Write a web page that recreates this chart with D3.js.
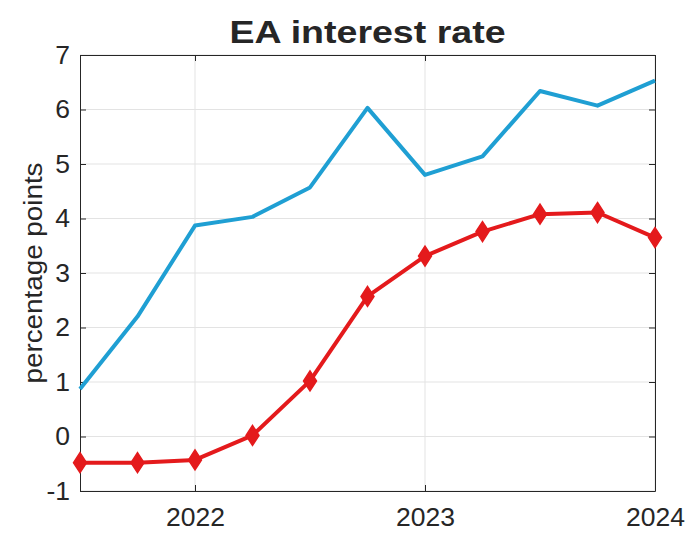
<!DOCTYPE html>
<html>
<head>
<meta charset="utf-8">
<script src="https://cdn.jsdelivr.net/npm/d3@7"></script>
<style>
  body { margin: 0; background: #fff; }
  text { font-family: "Liberation Sans", Arial, sans-serif; fill: #262626; }
</style>
</head>
<body>
<script>
// quarterly dates (as fractional years)
let dates = [2021.5, 2021.75, 2022, 2022.25, 2022.5, 2022.75, 2023, 2023.25, 2023.5, 2023.75, 2024];
let blueSeries = [0.87, 2.2, 3.87, 4.03, 4.57, 6.03, 4.8, 5.14, 6.34, 6.07, 6.53];
let redSeries = [-0.48, -0.48, -0.43, 0.02, 1.02, 2.57, 3.31, 3.76, 4.08, 4.11, 3.65];
let xTicks = [2022, 2023, 2024];
let yTicks = [-1, 0, 1, 2, 3, 4, 5, 6, 7];

let margin = {top: 55, left: 80, bottom: 43, right: 34},
    width = 689 - margin.left - margin.right,
    height = 534 - margin.top - margin.bottom;

let svg = d3.select("body").append("svg")
  .attr("width", 689).attr("height", 534);

let g = svg.append("g").attr("transform", `translate(${margin.left}, ${margin.top})`);

let x = d3.scaleLinear().domain([2021.5, 2024]).range([0, width]);
let y = d3.scaleLinear().domain([-1, 7]).range([height, 0]);

// grid
g.append("g").selectAll("line").data(yTicks).enter().append("line")
  .attr("x1", 0).attr("x2", width)
  .attr("y1", d => y(d)).attr("y2", d => y(d))
  .attr("stroke", "#e3e3e3").attr("stroke-width", 1);
g.append("g").selectAll("line").data(xTicks).enter().append("line")
  .attr("y1", 0).attr("y2", height)
  .attr("x1", d => x(d)).attr("x2", d => x(d))
  .attr("stroke", "#e3e3e3").attr("stroke-width", 1);

// axes (MATLAB-like inward ticks)
let xAxis = g.append("g").attr("transform", `translate(0, ${height})`)
  .call(d3.axisBottom(x).tickValues(xTicks).tickFormat(d3.format("d")).tickSizeInner(-6).tickSizeOuter(0).tickPadding(16));
let yAxis = g.append("g")
  .call(d3.axisLeft(y).tickValues(yTicks).tickFormat(d => String(d)).tickSizeInner(-6).tickSizeOuter(0).tickPadding(10));
let xTop = g.append("g")
  .call(d3.axisTop(x).tickValues(xTicks).tickFormat("").tickSizeInner(-6).tickSizeOuter(0));
let yRight = g.append("g").attr("transform", `translate(${width}, 0)`)
  .call(d3.axisRight(y).tickValues(yTicks).tickFormat("").tickSizeInner(-6).tickSizeOuter(0));

[xAxis, yAxis, xTop, yRight].forEach(a => {
  a.selectAll("path").attr("stroke", "#262626").attr("stroke-width", 1);
  a.selectAll("line").attr("stroke", "#262626");
  a.selectAll("text").style("font-size", "26.5px").attr("fill", "#262626");
});

// lines
let line = d3.line()
  .x((d, i) => x(dates[i]))
  .y(d => y(d));

g.append("path").datum(blueSeries)
  .attr("fill", "none").attr("stroke", "#1f9fd3").attr("stroke-width", 4)
  .attr("stroke-linejoin", "round")
  .attr("d", line);

g.append("path").datum(redSeries)
  .attr("fill", "none").attr("stroke", "#e41a1c").attr("stroke-width", 4)
  .attr("stroke-linejoin", "round")
  .attr("d", line);

// diamond markers
g.selectAll(".marker").data(redSeries).enter().append("path")
  .attr("class", "marker")
  .attr("d", "M0,-10L6.5,0L0,10L-6.5,0Z")
  .attr("transform", (d, i) => `translate(${x(dates[i])}, ${y(d)})`)
  .attr("fill", "#e41a1c").attr("stroke", "#e41a1c").attr("stroke-width", 1.5);

// title
svg.append("text")
  .attr("x", margin.left + width / 2).attr("y", 43)
  .attr("text-anchor", "middle")
  .style("font-size", "32px").style("font-weight", "bold")
  .attr("fill", "#000")
  .attr("textLength", 276).attr("lengthAdjust", "spacingAndGlyphs")
  .text("EA interest rate");

// y label
svg.append("text")
  .attr("transform", `translate(42, ${margin.top + height / 2}) rotate(-90)`)
  .attr("text-anchor", "middle")
  .style("font-size", "26.5px")
  .attr("textLength", 221).attr("lengthAdjust", "spacingAndGlyphs")
  .text("percentage points");
</script>
</body>
</html>
